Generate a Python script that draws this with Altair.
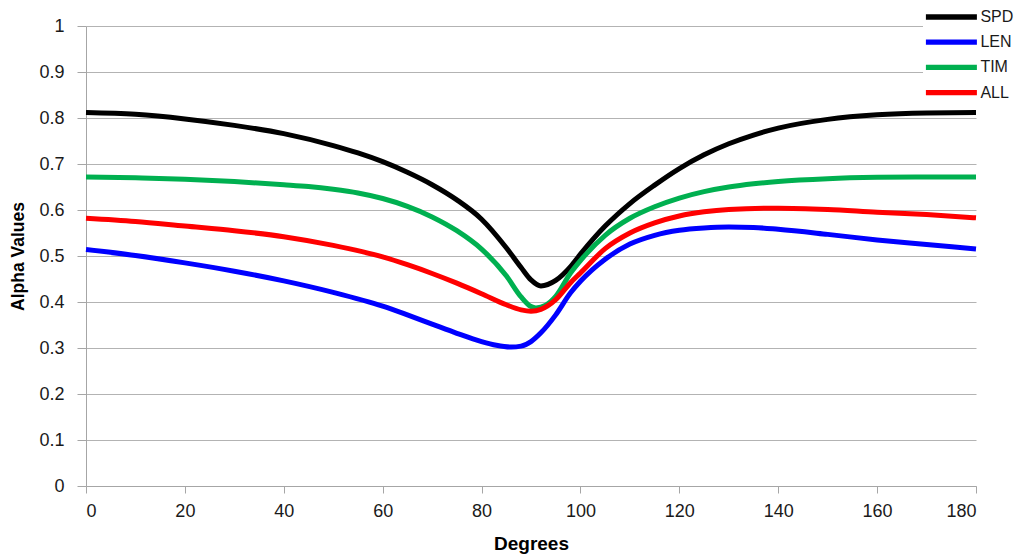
import altair as alt
import pandas as pd

# Alpha values against angle (degrees) for the four feature sets
deg_spd = [0, 10, 20, 30, 40, 50, 55, 60, 65, 70, 75, 80, 85, 88, 90, 92, 95, 98, 100,
           105, 110, 115, 120, 125, 130, 135, 140, 150, 160, 170, 180]
spd = [0.812, 0.808, 0.798, 0.784, 0.766, 0.740, 0.724, 0.705, 0.682, 0.655, 0.622,
       0.580, 0.518, 0.475, 0.448, 0.435, 0.447, 0.477, 0.504, 0.565, 0.614, 0.654,
       0.690, 0.720, 0.744, 0.763, 0.778, 0.797, 0.807, 0.811, 0.812]

deg_len = [0, 10, 20, 30, 40, 50, 60, 65, 70, 75, 80, 83, 86, 88, 90, 92, 95, 98, 100,
           105, 110, 115, 120, 125, 130, 135, 140, 150, 160, 170, 180]
len_vals = [0.514, 0.501, 0.485, 0.467, 0.446, 0.421, 0.391, 0.372, 0.352, 0.332, 0.314,
            0.306, 0.302, 0.304, 0.314, 0.333, 0.372, 0.420, 0.445, 0.493, 0.526, 0.545,
            0.556, 0.561, 0.563, 0.562, 0.558, 0.547, 0.535, 0.525, 0.515]

deg_tim = [0, 10, 20, 30, 40, 45, 50, 55, 60, 65, 70, 75, 80, 85, 88, 90, 91, 93, 95, 98,
           100, 105, 110, 115, 120, 125, 130, 135, 140, 150, 160, 170, 180]
tim = [0.672, 0.670, 0.667, 0.662, 0.655, 0.651, 0.645, 0.637, 0.625, 0.608, 0.585,
       0.555, 0.515, 0.457, 0.411, 0.390, 0.387, 0.393, 0.412, 0.463, 0.490, 0.545,
       0.582, 0.607, 0.626, 0.640, 0.650, 0.657, 0.662, 0.668, 0.671, 0.672, 0.672]

deg_all = [0, 10, 20, 30, 40, 50, 60, 65, 70, 75, 80, 85, 88, 90, 92, 95, 98, 100,
           105, 110, 115, 120, 125, 130, 140, 150, 160, 170, 180]
all_vals = [0.582, 0.575, 0.565, 0.555, 0.542, 0.523, 0.498, 0.481, 0.462, 0.441, 0.418,
            0.394, 0.383, 0.380, 0.384, 0.405, 0.442, 0.463, 0.516, 0.550, 0.572, 0.587,
            0.596, 0.601, 0.604, 0.601, 0.595, 0.590, 0.583]

series_names = ["SPD", "LEN", "TIM", "ALL"]
series_colors = ["#000000", "#0000ff", "#00b050", "#ff0000"]

x_ticks = [0, 20, 40, 60, 80, 100, 120, 140, 160, 180]
y_ticks = [0, 0.1, 0.2, 0.3, 0.4, 0.5, 0.6, 0.7, 0.8, 0.9, 1]

rows = []
for name, xs, ys in [("SPD", deg_spd, spd), ("LEN", deg_len, len_vals),
                     ("TIM", deg_tim, tim), ("ALL", deg_all, all_vals)]:
    for d, v in zip(xs, ys):
        rows.append({"series": name, "degrees": d, "alpha": v})
df = pd.DataFrame(rows)

FONT = "Liberation Sans, Arial, sans-serif"

chart = alt.Chart(df).mark_line(
    strokeWidth=5, interpolate="monotone", strokeCap="butt"
).encode(
    x=alt.X(
        "degrees:Q",
        scale=alt.Scale(domain=[0, 180], nice=False, zero=False),
        axis=alt.Axis(
            values=x_ticks, title="Degrees", grid=False,
            tickSize=7, labelPadding=9,
            titleY=63, titleBaseline="alphabetic",
            titleFontSize=19,
        ),
    ),
    y=alt.Y(
        "alpha:Q",
        scale=alt.Scale(domain=[0, 1], nice=False),
        axis=alt.Axis(
            values=y_ticks, format="~g", title="Alpha Values",
            tickSize=9, labelPadding=13,
            titleX=-63, titleBaseline="alphabetic", titleAngle=270,
            titleFontSize=17.5,
        ),
    ),
    color=alt.Color(
        "series:N",
        scale=alt.Scale(domain=series_names, range=series_colors),
        sort=series_names,
        legend=alt.Legend(
            title=None, orient="none", legendX=837, legendY=-23,
            symbolType="M-5,0L5,0", symbolSize=104, symbolStrokeWidth=5.3,
            symbolOffset=14.4, labelOffset=21,
            labelFontSize=16, labelColor="#1a1a1a", labelFont=FONT,
            rowPadding=3.2, padding=6, fillColor="white",
        ),
    ),
).properties(
    width=890, height=460,
    autosize=alt.AutoSizeParams(type="none"),
    padding={"left": 86, "top": 26, "right": 44, "bottom": 73},
).configure_view(
    stroke=None
).configure_axis(
    labelFont=FONT, titleFont=FONT,
    labelFontSize=18, labelColor="#1a1a1a",
    titleColor="#000000", titleFontWeight="bold",
    domainColor="#a6a6a6", tickColor="#a6a6a6", gridColor="#b3b3b3",
    domainWidth=1, tickWidth=1, gridWidth=1,
)

chart.save("out.html", embed_options={"renderer": "svg", "actions": False})
